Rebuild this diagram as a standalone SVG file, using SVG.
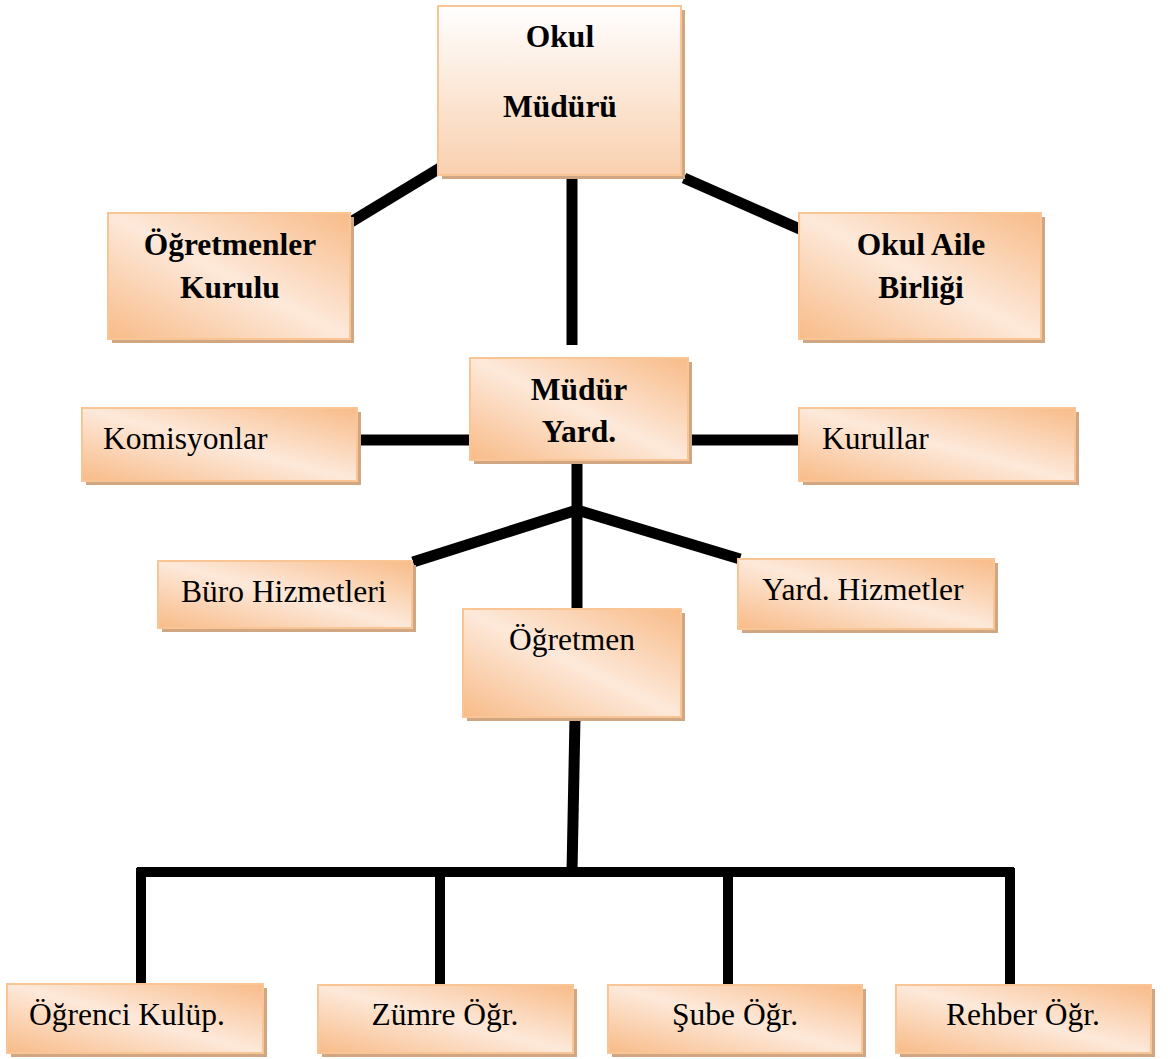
<svg xmlns="http://www.w3.org/2000/svg" width="1168" height="1059" viewBox="0 0 1168 1059">
<defs>
<linearGradient id="gDiag" x1="1" y1="0" x2="0" y2="1">
<stop offset="0" stop-color="#F8BB88"/>
<stop offset="0.5" stop-color="#FDE9DA"/>
<stop offset="1" stop-color="#F8BB88"/>
</linearGradient>
<linearGradient id="gVert" x1="0" y1="0" x2="0" y2="1">
<stop offset="0" stop-color="#FFFFFF"/>
<stop offset="1" stop-color="#F9D0AF"/>
</linearGradient>
<style>
.sh{fill:#D1A683;}
.bx{fill:url(#gDiag);stroke:#F9C595;stroke-width:2;}
.bxv{fill:url(#gVert);stroke:#F9C595;stroke-width:2;}
.t{font-family:"Liberation Serif","Times New Roman",serif;font-size:31.5px;fill:#000;}
.b{font-weight:bold;}
.m{text-anchor:middle;}
.ln{stroke:#000;stroke-width:11;fill:none;stroke-linecap:butt;}
.ln2{stroke:#000;stroke-width:10;fill:none;stroke-linecap:butt;}
</style>
</defs>
<rect width="1168" height="1059" fill="#FFFFFF"/>
<g id="connectors">
<line class="ln" x1="440" y1="168" x2="346" y2="225"/>
<line class="ln" x1="684" y1="178" x2="802" y2="230"/>
<line class="ln" x1="572" y1="178" x2="572" y2="345"/>
<line class="ln" x1="357" y1="440" x2="471" y2="440"/>
<line class="ln" x1="688" y1="440" x2="800" y2="440"/>
<line class="ln" x1="577" y1="462" x2="577" y2="609"/>
<polyline class="ln" points="413,562 577,510 740,559"/>
<line class="ln" x1="575" y1="718" x2="572" y2="872"/>
<line class="ln2" x1="137" y1="872" x2="1014" y2="872"/>
<line class="ln2" x1="141" y1="868" x2="141" y2="986"/>
<line class="ln2" x1="440" y1="868" x2="440" y2="986"/>
<line class="ln2" x1="728" y1="868" x2="728" y2="986"/>
<line class="ln2" x1="1010" y1="868" x2="1010" y2="986"/>
</g>
<g id="okul-muduru">
<rect class="sh" x="442" y="10" width="243" height="169"/>
<rect class="bxv" x="438" y="6" width="243" height="169"/>
<text class="t b m" x="560" y="47">Okul</text>
<text class="t b m" x="560" y="117">Müdürü</text>
</g>
<g id="ogretmenler-kurulu">
<rect class="sh" x="112" y="217" width="242" height="126"/>
<rect class="bx" x="108" y="213" width="242" height="126"/>
<text class="t b m" x="230" y="255">Öğretmenler</text>
<text class="t b m" x="230" y="298">Kurulu</text>
</g>
<g id="okul-aile-birligi">
<rect class="sh" x="803" y="217" width="242" height="126"/>
<rect class="bx" x="799" y="213" width="242" height="126"/>
<text class="t b m" x="921" y="255">Okul Aile</text>
<text class="t b m" x="921" y="298">Birliği</text>
</g>
<g id="mudur-yard">
<rect class="sh" x="474" y="362" width="218" height="102"/>
<rect class="bx" x="470" y="358" width="218" height="102"/>
<text class="t b m" x="579" y="400">Müdür</text>
<text class="t b m" x="579" y="442">Yard.</text>
</g>
<g id="komisyonlar">
<rect class="sh" x="86" y="412" width="275" height="73"/>
<rect class="bx" x="82" y="408" width="275" height="73"/>
<text class="t" x="103" y="449">Komisyonlar</text>
</g>
<g id="kurullar">
<rect class="sh" x="803" y="412" width="276" height="73"/>
<rect class="bx" x="799" y="408" width="276" height="73"/>
<text class="t" x="822" y="449">Kurullar</text>
</g>
<g id="buro-hizmetleri">
<rect class="sh" x="162" y="565" width="254" height="67"/>
<rect class="bx" x="158" y="561" width="254" height="67"/>
<text class="t" x="181" y="602">Büro Hizmetleri</text>
</g>
<g id="yard-hizmetler">
<rect class="sh" x="742" y="563" width="256" height="70"/>
<rect class="bx" x="738" y="559" width="256" height="70"/>
<text class="t" x="762" y="600">Yard. Hizmetler</text>
</g>
<g id="ogretmen">
<rect class="sh" x="467" y="613" width="218" height="108"/>
<rect class="bx" x="463" y="609" width="218" height="108"/>
<text class="t m" x="572" y="650">Öğretmen</text>
</g>
<g id="ogrenci-kulup">
<rect class="sh" x="11" y="988" width="256" height="69"/>
<rect class="bx" x="7" y="984" width="256" height="69"/>
<text class="t" x="29" y="1025">Öğrenci Kulüp.</text>
</g>
<g id="zumre-ogr">
<rect class="sh" x="322" y="989" width="255" height="68"/>
<rect class="bx" x="318" y="985" width="255" height="68"/>
<text class="t m" x="445" y="1025">Zümre Öğr.</text>
</g>
<g id="sube-ogr">
<rect class="sh" x="612" y="989" width="254" height="68"/>
<rect class="bx" x="608" y="985" width="254" height="68"/>
<text class="t m" x="735" y="1025">Şube Öğr.</text>
</g>
<g id="rehber-ogr">
<rect class="sh" x="900" y="989" width="255" height="68"/>
<rect class="bx" x="896" y="985" width="255" height="68"/>
<text class="t m" x="1023" y="1025">Rehber Öğr.</text>
</g>
</svg>
